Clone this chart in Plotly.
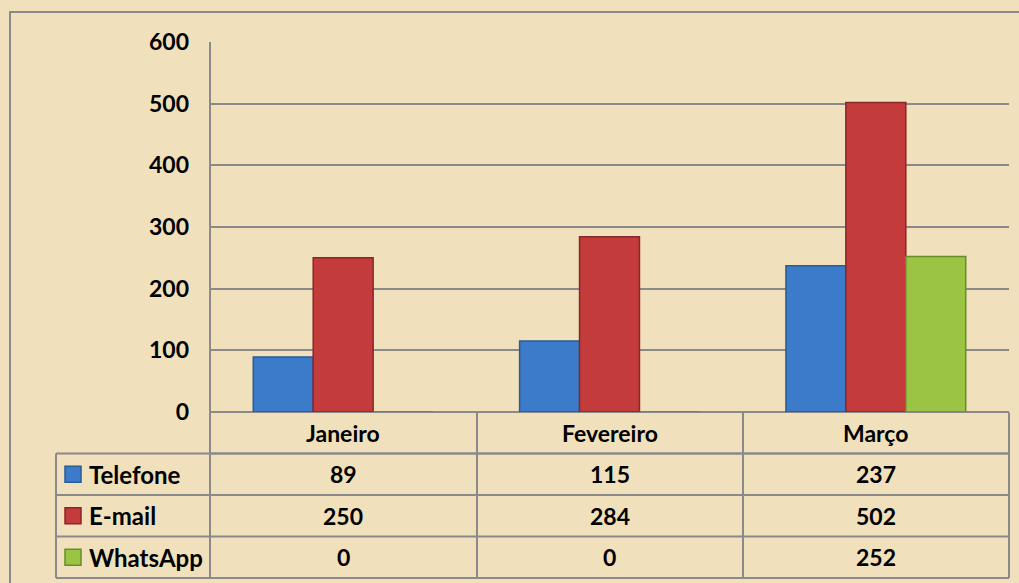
import plotly.graph_objects as go

categories = ["Janeiro", "Fevereiro", "Março"]
series_names = ["Telefone", "E-mail", "WhatsApp"]
telefone = [89, 115, 237]
email = [250, 284, 502]
whatsapp = [0, 0, 252]
values = [telefone, email, whatsapp]
y_ticks = [0, 100, 200, 300, 400, 500, 600]

colors = ["#3c7bc9", "#c33b3b", "#9bc444"]
edges = ["#2a5a98", "#8a2626", "#6a8b2a"]

W, H = 1019, 583
L, R, T, B = 210, 1009, 42, 412
FONT = "Lato"
GRID = "#8a8a8a"
BG = "#f0e0bb"


def px(x):
    return (x - L) / (R - L)


def py(y):
    return (B - y) / (B - T)


fig = go.Figure()
for name, vals, c, e in zip(series_names, values, colors, edges):
    fig.add_trace(go.Bar(
        name=name, x=categories, y=vals,
        marker=dict(color=c, line=dict(color=e, width=1.5)),
        showlegend=False, hoverinfo="skip",
    ))

shapes = []
line = dict(color=GRID, width=2)
# outer chart border (left and top visible)
shapes.append(dict(type="rect", xref="paper", yref="paper",
                   x0=px(10), x1=px(1040), y0=py(12), y1=py(600),
                   line=line, layer="below"))
# table horizontal lines
row_y = [412.5, 453.5, 495, 536.5, 578]
shapes.append(dict(type="line", xref="paper", yref="paper",
                   x0=px(L), x1=px(R), y0=py(row_y[1]), y1=py(row_y[1]), line=line))
for yv in row_y[1:]:
    shapes.append(dict(type="line", xref="paper", yref="paper",
                       x0=px(56), x1=px(R), y0=py(yv), y1=py(yv), line=line))
# vertical lines
shapes.append(dict(type="line", xref="paper", yref="paper",
                   x0=px(56), x1=px(56), y0=py(row_y[1]), y1=py(row_y[4]), line=line))
shapes.append(dict(type="line", xref="paper", yref="paper",
                   x0=px(L), x1=px(L), y0=py(T), y1=py(row_y[4]), line=line))
for xv in [477, 743, R]:
    shapes.append(dict(type="line", xref="paper", yref="paper",
                       x0=px(xv), x1=px(xv), y0=py(row_y[0]), y1=py(row_y[4]), line=line))

annotations = []
tf = dict(family=FONT, size=23, color="black")
# category header
for cat in categories:
    annotations.append(dict(x=cat, xref="x", y=py((row_y[0] + row_y[1]) / 2), yref="paper",
                            text="<b>%s</b>" % cat, showarrow=False, font=tf,
                            xanchor="center", yanchor="middle"))
# rows
for i, (name, vals, c, e) in enumerate(zip(series_names, values, colors, edges)):
    yc = (row_y[i + 1] + row_y[i + 2]) / 2
    shapes.append(dict(type="rect", xref="paper", yref="paper",
                       x0=px(65), x1=px(81), y0=py(yc - 8), y1=py(yc + 8),
                       fillcolor=c, line=dict(color=e, width=1.5)))
    annotations.append(dict(x=px(87), xref="paper", y=py(yc), yref="paper",
                            text="<b>%s</b>" % name, showarrow=False,
                            font=dict(family=FONT, size=24, color="black"),
                            xanchor="left", yanchor="middle"))
    for cat, v in zip(categories, vals):
        annotations.append(dict(x=cat, xref="x", y=py(yc), yref="paper",
                                text="<b>%d</b>" % v, showarrow=False, font=tf,
                                xanchor="center", yanchor="middle"))

fig.update_layout(
    width=W, height=H,
    margin=dict(l=L, r=W - R, t=T, b=H - B),
    paper_bgcolor=BG, plot_bgcolor=BG,
    barmode="group", bargap=0.325, bargroupgap=0,
    shapes=shapes, annotations=annotations,
    xaxis=dict(showticklabels=False, showgrid=False, zeroline=False,
               showline=False, ticks=""),
    yaxis=dict(range=[0, 600], tickvals=y_ticks,
               ticktext=["<b>%d</b>" % v for v in y_ticks],
               tickfont=dict(family=FONT, size=23, color="black"),
               showgrid=True, gridcolor=GRID, gridwidth=2,
               zeroline=True, zerolinecolor=GRID, zerolinewidth=2,
               showline=False, ticks="", ticklabelstandoff=20),
    font=dict(family=FONT),
)

fig.write_html("out.html",
               config={"displayModeBar": False},
               post_script="document.body.style.margin='0';"
                           "document.body.style.background='%s';" % BG)
